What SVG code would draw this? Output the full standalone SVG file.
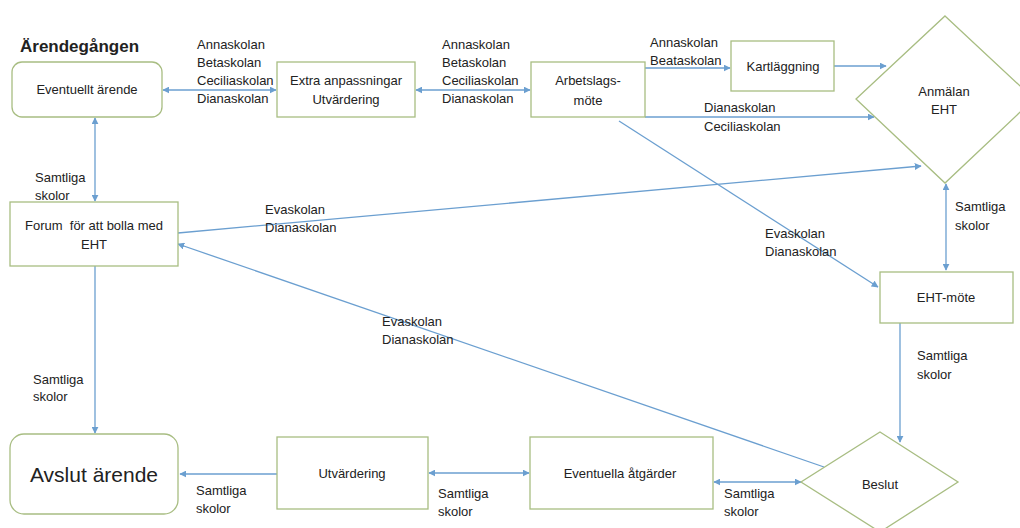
<svg xmlns="http://www.w3.org/2000/svg" width="1020" height="528" viewBox="0 0 1020 528">
<style>
.box{fill:#fff;stroke:#a8bd82;stroke-width:1.3}
.t{font-family:"Liberation Sans",Arial,sans-serif;font-size:13px;fill:#222}
.c{text-anchor:middle}
.ln{fill:none;stroke:#6b9fd0;stroke-width:1.3}
</style>
<defs>
<marker id="ah" viewBox="0 0 10 10" refX="9" refY="5" markerWidth="7" markerHeight="7" orient="auto-start-reverse" markerUnits="userSpaceOnUse">
<path d="M0,0 L10,5 L0,10 z" fill="#6b9fd0"/>
</marker>
</defs>
<rect width="1020" height="528" fill="#fff"/>
<text x="20" y="52" style="font-family:'Liberation Sans',Arial,sans-serif;font-size:17px;font-weight:bold;fill:#222">Ärendegången</text>

<g id="connectors">
<line class="ln" x1="163" y1="90" x2="276" y2="90" marker-start="url(#ah)" marker-end="url(#ah)"/>
<line class="ln" x1="416" y1="90" x2="530" y2="90" marker-start="url(#ah)" marker-end="url(#ah)"/>
<line class="ln" x1="645" y1="68" x2="730" y2="68" marker-end="url(#ah)"/>
<line class="ln" x1="834" y1="66" x2="886" y2="66" marker-end="url(#ah)"/>
<line class="ln" x1="645" y1="117" x2="874" y2="117" marker-end="url(#ah)"/>
<line class="ln" x1="178" y1="233" x2="921" y2="166" marker-end="url(#ah)"/>
<line class="ln" x1="619" y1="121" x2="878" y2="287" marker-end="url(#ah)"/>
<line class="ln" x1="946" y1="184" x2="946" y2="270" marker-start="url(#ah)" marker-end="url(#ah)"/>
<line class="ln" x1="900" y1="323" x2="900" y2="442" marker-end="url(#ah)"/>
<line class="ln" x1="824" y1="467" x2="178" y2="244" marker-end="url(#ah)"/>
<line class="ln" x1="714" y1="482" x2="801" y2="482" marker-start="url(#ah)" marker-end="url(#ah)"/>
<line class="ln" x1="429" y1="473" x2="529" y2="473" marker-start="url(#ah)" marker-end="url(#ah)"/>
<line class="ln" x1="277" y1="474" x2="180" y2="474" marker-end="url(#ah)"/>
<line class="ln" x1="95" y1="118" x2="95" y2="201" marker-start="url(#ah)" marker-end="url(#ah)"/>
<line class="ln" x1="95" y1="266" x2="95" y2="433" marker-end="url(#ah)"/>
</g>

<g id="labels">
<text class="t" x="197" y="49">Annaskolan</text>
<text class="t" x="197" y="67">Betaskolan</text>
<text class="t" x="197" y="85">Ceciliaskolan</text>
<text class="t" x="197" y="103">Dianaskolan</text>
<text class="t" x="442" y="49">Annaskolan</text>
<text class="t" x="442" y="67">Betaskolan</text>
<text class="t" x="442" y="85">Ceciliaskolan</text>
<text class="t" x="442" y="103">Dianaskolan</text>
<text class="t" x="650" y="47">Annaskolan</text>
<text class="t" x="650" y="65">Beataskolan</text>
<text class="t" x="704" y="112">Dianaskolan</text>
<text class="t" x="704" y="131">Ceciliaskolan</text>
<text class="t" x="265" y="214">Evaskolan</text>
<text class="t" x="265" y="232">Dianaskolan</text>
<text class="t" x="765" y="238">Evaskolan</text>
<text class="t" x="765" y="256">Dianaskolan</text>
<text class="t" x="955" y="211">Samtliga</text>
<text class="t" x="955" y="230">skolor</text>
<text class="t" x="917" y="360">Samtliga</text>
<text class="t" x="917" y="379">skolor</text>
<text class="t" x="382" y="326">Evaskolan</text>
<text class="t" x="382" y="344">Dianaskolan</text>
<text class="t" x="35" y="182">Samtliga</text>
<text class="t" x="35" y="200">skolor</text>
<text class="t" x="33" y="384">Samtliga</text>
<text class="t" x="33" y="401">skolor</text>
<text class="t" x="196" y="495">Samtliga</text>
<text class="t" x="196" y="513">skolor</text>
<text class="t" x="438" y="498">Samtliga</text>
<text class="t" x="438" y="516">skolor</text>
<text class="t" x="724" y="498">Samtliga</text>
<text class="t" x="724" y="516">skolor</text>
</g>

<g id="eventuellt">
<rect class="box" x="12" y="62" width="150" height="55" rx="10"/>
<text class="t c" x="87" y="94">Eventuellt ärende</text>
</g>
<g id="extra">
<rect class="box" x="277" y="62" width="138" height="55"/>
<text class="t c" x="346" y="85">Extra anpassningar</text>
<text class="t c" x="346" y="104">Utvärdering</text>
</g>
<g id="arbetslag">
<rect class="box" x="531" y="62" width="114" height="55"/>
<text class="t c" x="588" y="85">Arbetslags-</text>
<text class="t c" x="588" y="105">möte</text>
</g>
<g id="kartlaggning">
<rect class="box" x="731" y="41" width="103" height="50"/>
<text class="t c" x="783" y="71">Kartläggning</text>
</g>
<g id="anmalan">
<polygon class="box" points="945,16 1034,99 945,183 856,99"/>
<text class="t c" x="944" y="96">Anmälan</text>
<text class="t c" x="944" y="114">EHT</text>
</g>
<g id="forum">
<rect class="box" x="10" y="202" width="168" height="64"/>
<text class="t c" x="94" y="230" xml:space="preserve">Forum  för att bolla med</text>
<text class="t c" x="94" y="249">EHT</text>
</g>
<g id="ehtmote">
<rect class="box" x="880" y="272" width="133" height="51"/>
<text class="t c" x="946" y="302">EHT-möte</text>
</g>
<g id="beslut">
<polygon class="box" points="880,432 958,482 880,532 801,482"/>
<text class="t c" x="880" y="489">Beslut</text>
</g>
<g id="atgarder">
<rect class="box" x="530" y="437" width="183" height="72"/>
<text class="t c" x="620" y="478">Eventuella åtgärder</text>
</g>
<g id="utvardering">
<rect class="box" x="277" y="437" width="151" height="72"/>
<text class="t c" x="352" y="478">Utvärdering</text>
</g>
<g id="avslut">
<rect class="box" x="10" y="434" width="168" height="80" rx="14"/>
<text class="t c" x="94" y="482" style="font-size:21px">Avslut ärende</text>
</g>
</svg>
